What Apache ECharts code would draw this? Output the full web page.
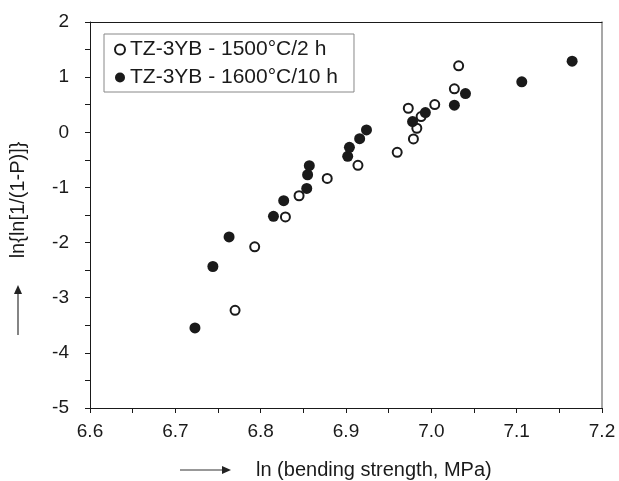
<!DOCTYPE html>
<html>
<head>
<meta charset="utf-8">
<script src="https://cdn.jsdelivr.net/npm/echarts@6/dist/echarts.min.js"></script>
<style>html,body{margin:0;padding:0;background:#fff;}#c{width:619px;height:481px;}</style>
</head>
<body>
<div id="c"></div>
<script>
const seriesNames = ['TZ-3YB - 1500°C/2 h', 'TZ-3YB - 1600°C/10 h'];
const openX = [6.770, 6.793, 6.829, 6.845, 6.878, 6.914, 6.960, 6.979, 6.983, 6.988, 6.973, 7.004, 7.027, 7.032];
const openY = [-3.229, -2.078, -1.536, -1.151, -0.836, -0.600, -0.364, -0.121, 0.073, 0.285, 0.436, 0.503, 0.788, 1.206];
const filledX = [6.723, 6.744, 6.763, 6.815, 6.827, 6.854, 6.855, 6.857, 6.902, 6.904, 6.916, 6.924, 6.978, 6.993, 7.027, 7.040, 7.106, 7.165];
const filledY = [-3.548, -2.434, -1.898, -1.524, -1.241, -1.018, -0.770, -0.606, -0.436, -0.273, -0.115, 0.042, 0.194, 0.358, 0.491, 0.703, 0.915, 1.289];
const xTitle = 'ln (bending strength, MPa)';
const yTitle = 'ln{ln[1/(1-P)]}';

const FONT = '"Liberation Sans", Arial, sans-serif';
const INK = '#1a1a1a';
const zip = (xs, ys) => xs.map((x, i) => [x, ys[i]]);

const chart = echarts.init(document.getElementById('c'), null, {renderer: 'canvas'});
chart.setOption({
  animation: false,
  backgroundColor: '#fff',
  textStyle: {fontFamily: FONT, color: INK},
  grid: {left: 90, right: 17, top: 22, bottom: 73, containLabel: false},
  legend: {
    orient: 'vertical', left: 104, top: 34,
    padding: [5, 16, 4, 10],
    itemWidth: 10, itemHeight: 10, itemGap: 7, itemTextGap: 13,
    borderColor: '#888', borderWidth: 1,
    textStyle: {fontFamily: FONT, fontSize: 21, color: INK},
    data: seriesNames
  },
  xAxis: [{
    type: 'value', min: 6.6, max: 7.2, interval: 0.1,
    axisLine: {show: true, onZero: false, lineStyle: {color: INK, width: 1}},
    axisTick: {show: true, inside: false, length: 5, lineStyle: {color: INK}},
    minorTick: {show: true, splitNumber: 2, length: 5, lineStyle: {color: INK}},
    axisLabel: {margin: 14, fontSize: 19, color: INK, fontFamily: FONT, formatter: v => v.toFixed(1)},
    splitLine: {show: false}
  }, {
    type: 'value', position: 'top', min: 6.6, max: 7.2,
    axisLine: {show: true, onZero: false, lineStyle: {color: INK, width: 1}},
    axisTick: {show: false}, axisLabel: {show: false}, splitLine: {show: false}
  }],
  yAxis: [{
    type: 'value', min: -5, max: 2, interval: 1,
    axisLine: {show: true, onZero: false, lineStyle: {color: INK, width: 1}},
    axisTick: {show: true, inside: false, length: 5, lineStyle: {color: INK}},
    minorTick: {show: true, splitNumber: 2, length: 5, lineStyle: {color: INK}},
    axisLabel: {margin: 21, fontSize: 19, color: INK, fontFamily: FONT},
    splitLine: {show: false}
  }, {
    type: 'value', position: 'right', min: -5, max: 2,
    axisLine: {show: true, onZero: false, lineStyle: {color: '#8a8a8a', width: 1.5}},
    axisTick: {show: false}, axisLabel: {show: false}, splitLine: {show: false}
  }],
  series: [{
    name: seriesNames[0], type: 'scatter', symbol: 'circle', symbolSize: 9,
    itemStyle: {color: '#fff', borderColor: INK, borderWidth: 2, opacity: 1},
    data: zip(openX, openY)
  }, {
    name: seriesNames[1], type: 'scatter', symbol: 'circle', symbolSize: 11,
    itemStyle: {color: INK, borderWidth: 0, opacity: 1},
    data: zip(filledX, filledY)
  }],
  graphic: [
    {type: 'text', x: 256, y: 470, style: {text: xTitle, font: '20px ' + FONT, fill: INK, textAlign: 'left', textVerticalAlign: 'middle'}},
    {type: 'line', shape: {x1: 180, y1: 470, x2: 224, y2: 470}, style: {stroke: '#333', lineWidth: 1.2}},
    {type: 'polygon', shape: {points: [[222, 466], [231, 470], [222, 474]]}, style: {fill: '#222'}},
    {type: 'text', x: 18, y: 200, rotation: Math.PI / 2, style: {text: yTitle, font: '20px ' + FONT, fill: INK, textAlign: 'center', textVerticalAlign: 'middle'}},
    {type: 'line', shape: {x1: 18, y1: 335, x2: 18, y2: 292}, style: {stroke: '#333', lineWidth: 1.2}},
    {type: 'polygon', shape: {points: [[14, 294], [18, 285], [22, 294]]}, style: {fill: '#222'}}
  ]
});
</script>
</body>
</html>
